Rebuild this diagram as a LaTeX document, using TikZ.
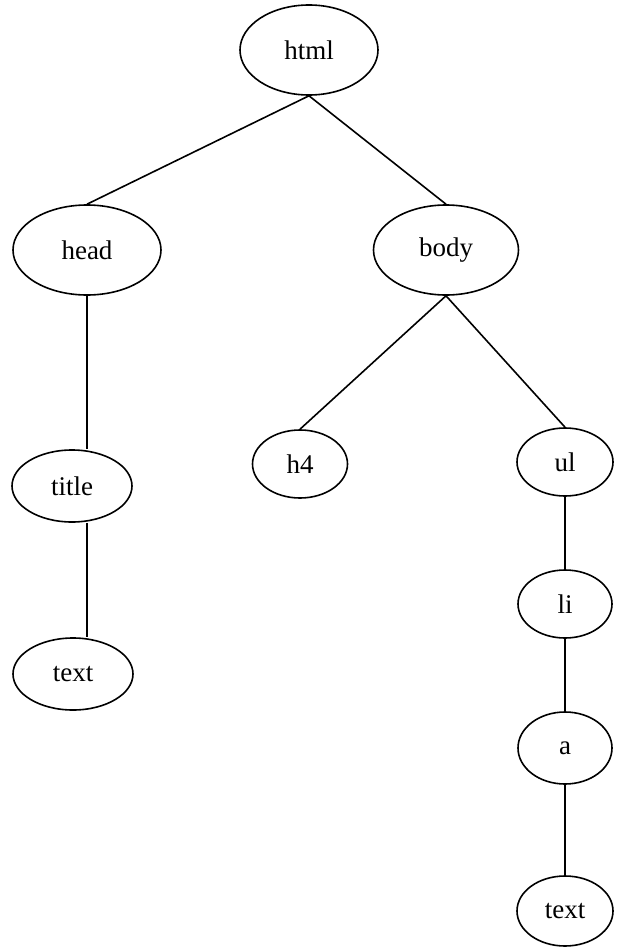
\documentclass[tikz,border=0pt]{standalone}
\usepackage{fontspec}
\setmainfont{Liberation Serif}
\usetikzlibrary{shapes.geometric}
\begin{document}
\begin{tikzpicture}[x=1pt,y=-1pt,
  tnode/.style={draw, ellipse, line width=1.6pt, inner sep=0pt, font=\fontsize{27}{31}\selectfont},
  edge/.style={line width=1.6pt}]
\useasboundingbox (0,0) rectangle (629,947);
\node[tnode, minimum width=138, minimum height=90] (html) at (309,50) {html};
\node[tnode, minimum width=148, minimum height=90] (head) at (87,250) {head};
\node[tnode, minimum width=145, minimum height=90] (body) at (446,250) {body};
\node[tnode, minimum width=120, minimum height=72] (title) at (72,486) {title};
\node[tnode, minimum width=95, minimum height=68] (h4) at (300,464) {h4};
\node[tnode, minimum width=96, minimum height=68] (ul) at (565,462) {ul};
\node[tnode, minimum width=94, minimum height=68] (li) at (565,604) {li};
\node[tnode, minimum width=120, minimum height=72] (text1) at (73,674) {text};
\node[tnode, minimum width=94, minimum height=72] (a) at (565,748) {a};
\node[tnode, minimum width=96, minimum height=70] (text2) at (565,911) {text};
\draw[edge] (html.south) -- (head.north);
\draw[edge] (html.south) -- (body.north);
\draw[edge] (head.south) -- (head.south |- title.north);
\draw[edge] (head.south |- title.south) -- (head.south |- text1.north);
\draw[edge] (body.south) -- (h4.north);
\draw[edge] (body.south) -- (ul.north);
\draw[edge] (ul.south) -- (li.north);
\draw[edge] (li.south) -- (a.north);
\draw[edge] (a.south) -- (text2.north);
\end{tikzpicture}
\end{document}
